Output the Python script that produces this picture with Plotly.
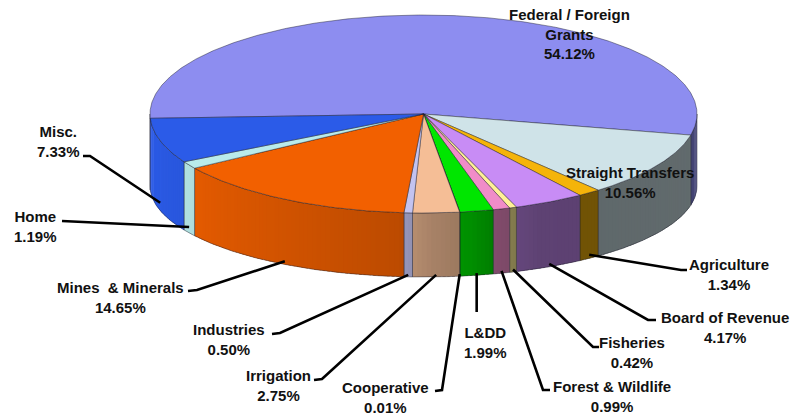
import numpy as np
import plotly.graph_objects as go

# ---- data ---------------------------------------------------------------
departments = [
    "Federal / Foreign Grants", "Straight Transfers", "Agriculture",
    "Board of Revenue", "Fisheries", "Forest & Wildlife", "L&DD",
    "Cooperative", "Irrigation", "Industries", "Mines & Minerals",
    "Home", "Misc.",
]
shares = [54.12, 10.56, 1.34, 4.17, 0.42, 0.99, 1.99,
          0.01, 2.75, 0.50, 14.65, 1.19, 7.33]
label_names = [
    "Federal / Foreign<br>Grants", "Straight Transfers", "Agriculture",
    "Board of Revenue", "Fisheries", "Forest & Wildlife", "L&DD",
    "Cooperative", "Irrigation", "Industries", "Mines  & Minerals",
    "Home", "Misc.",
]
top_colors = [
    (141, 141, 240), (207, 227, 232), (245, 180, 10), (200, 140, 245),
    (255, 240, 150), (240, 140, 200), (0, 230, 0), (139, 90, 43),
    (245, 190, 150), (195, 195, 240), (242, 96, 0), (185, 235, 235),
    (43, 91, 232),
]

# ---- geometry of the tilted disc (page pixel units) -----------------------
CX, CY, RX, RY = 423.5, 114.0, 273.5, 99.0      # top ellipse
BCY, BRY = 186.0, 91.0                            # bottom rim ellipse
START = 177.5                                     # first slice edge, degrees
ANCHOR_DROP = 62.0

# wall brightness as a function of the rim angle (light from the left)
SHADE_T = [0, 12, 50, 65, 75, 80, 88, 95, 120, 150, 180]
SHADE_F = [0.55, 0.47, 0.46, 0.47, 0.54, 0.62, 0.68, 0.78, 0.86, 0.95, 1.0]

# label centre (x, y), leader elbow and leader end for each slice
label_pos = [
    (569, 34), (630, 182.5), (729, 274), (725, 327), (632, 352.5),
    (612, 396), (485, 342.5), (385, 397), (278, 385.5), (229, 339.5),
    (120, 297.5), (35, 226.5), (58, 141),
]
leader_path = [
    None, None,
    [(681, 270), (687, 270)],
    [(648, 320), (656, 320)],
    [(593, 347), (599, 347)],
    [(543, 390), (550, 390)],
    [(478, 312)],
    [(442, 390), (435, 391)],
    [(322, 379), (314, 380)],
    [(280, 333), (272, 334)],
    [(197, 290), (188, 291)],
    [(72, 221), (62, 221)],
    [(90, 156), (83, 156)],
]


def top_pt(t):
    r = np.radians(t)
    return CX + RX * np.cos(r), CY + RY * np.sin(r)


def bot_pt(t):
    r = np.radians(t)
    return CX + RX * np.cos(r), BCY + BRY * np.sin(r)


def shade(rgb, t):
    f = np.interp(t, SHADE_T, SHADE_F)
    return "rgb(%d,%d,%d)" % tuple(int(round(c * f)) for c in rgb)


def rgb(c):
    return "rgb(%d,%d,%d)" % c


total = sum(shares)
spans = [v / total * 360.0 for v in shares]
starts = list(START + np.concatenate([[0], np.cumsum(spans)[:-1]]))

fig = go.Figure()
EDGE = "rgba(25,25,40,0.55)"

# ---- outer wall (front half only) --------------------------------------
for i, (a, sp) in enumerate(zip(starts, spans)):
    b = a + sp
    intervals = []
    for off in (0.0, 360.0):
        lo, hi = max(a - off, 0.0), min(b - off, 180.0)
        if hi > lo:
            intervals.append((lo, hi))
    for lo, hi in intervals:
        n = max(1, int(np.ceil((hi - lo) / 1.0)))
        edges = np.linspace(lo, hi, n + 1)
        for k, (s0, s1) in enumerate(zip(edges[:-1], edges[1:])):
            # overlap each strip into the next one so no seams show
            s1e = min(hi, s1 + 0.6) if k < n - 1 else s1
            ts = np.linspace(s0, s1e, 3)
            tx, ty = top_pt(ts)
            bx, by = bot_pt(ts[::-1])
            col = shade(top_colors[i], (s0 + s1) / 2)
            fig.add_trace(go.Scatter(
                x=np.concatenate([tx, bx, tx[:1]]),
                y=np.concatenate([ty, by, ty[:1]]),
                mode="none", fill="toself", fillcolor=col,
                hoverinfo="skip", showlegend=False))
        ts = np.linspace(lo, hi, max(3, int((hi - lo) * 2)))
        tx, ty = top_pt(ts)
        bx, by = bot_pt(ts[::-1])
        fig.add_trace(go.Scatter(
            x=np.concatenate([tx, bx, tx[:1]]),
            y=np.concatenate([ty, by, ty[:1]]),
            mode="lines", line=dict(color=EDGE, width=0.8),
            hoverinfo="skip", showlegend=False))

# ---- top faces ----------------------------------------------------------
for i, (a, sp) in enumerate(zip(starts, spans)):
    ts = np.linspace(a, a + sp, max(2, int(sp * 2) + 2))
    tx, ty = top_pt(ts)
    fig.add_trace(go.Scatter(
        x=np.concatenate([[CX], tx, [CX]]),
        y=np.concatenate([[CY], ty, [CY]]),
        mode="lines", fill="toself", fillcolor=rgb(top_colors[i]),
        line=dict(color=EDGE, width=0.8),
        name=departments[i], hoverinfo="name", showlegend=False))

# ---- leader lines -------------------------------------------------------
for i, (a, sp) in enumerate(zip(starts, spans)):
    path = leader_path[i]
    if path is None:
        continue
    mid = np.radians(a + sp / 2)
    ax = CX + RX * np.cos(mid)
    ay = CY + ANCHOR_DROP + RY * np.sin(mid)
    xs = [ax] + [p[0] for p in path]
    ys = [ay] + [p[1] for p in path]
    if departments[i] == "L&DD":
        xs[-1] = ax
    fig.add_trace(go.Scatter(
        x=xs, y=ys, mode="lines", line=dict(color="black", width=2.6),
        hoverinfo="skip", showlegend=False))

# ---- labels -------------------------------------------------------------
for name, v, (lx, ly) in zip(label_names, shares, label_pos):
    fig.add_annotation(
        x=lx, y=ly, xref="x", yref="y", showarrow=False,
        text="<b>%s<br>%.2f%%</b>" % (name, v), align="center",
        font=dict(family="Arial, 'Liberation Sans', sans-serif",
                  size=15, color="#111111"),
        xanchor="center", yanchor="middle")

fig.update_layout(
    width=794, height=414,
    margin=dict(l=0, r=0, t=0, b=0),
    paper_bgcolor="white", plot_bgcolor="white",
    xaxis=dict(range=[0, 794], visible=False, fixedrange=True),
    yaxis=dict(range=[414, 0], visible=False, fixedrange=True),
    showlegend=False,
)

fig.write_html("out.html")
